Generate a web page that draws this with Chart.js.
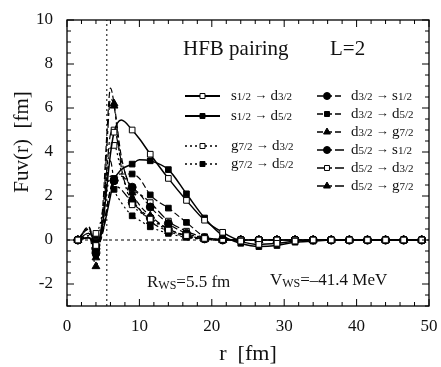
<!DOCTYPE html>
<html lang="en">
<head>
<meta charset="UTF-8">
<title>HFB pairing L=2</title>
<script src="https://cdn.jsdelivr.net/npm/chart.js"></script>
<style>
  html, body { margin: 0; padding: 0; background: #fff; }
</style>
</head>
<body>
<canvas id="chart" width="441" height="367"></canvas>
<script>
// radial grid (fm) and the positions carrying markers
const rGrid = [1.5, 3, 4, 5, 5.5, 6, 6.5, 7.5, 9, 10, 11.5, 14, 16.5, 19, 21.5, 24, 26.5, 29, 31.5, 34, 36.5, 39, 41.5, 44, 46.5, 49];
const markerR = [1.5, 4, 6.5, 9, 11.5, 14, 16.5, 19, 21.5, 24, 26.5, 29, 31.5, 34, 36.5, 39, 41.5, 44, 46.5, 49];

const xTicks = [0, 10, 20, 30, 40, 50];
const yTicks = [-2, 0, 2, 4, 6, 8, 10];

const labels = [
  's1/2 → d3/2', 's1/2 → d5/2', 'g7/2 → d3/2', 'g7/2 → d5/2',
  'd3/2 → s1/2', 'd3/2 → d5/2', 'd3/2 → g7/2', 'd5/2 → s1/2', 'd5/2 → d3/2', 'd5/2 → g7/2'
];

const s12_d32 = [0, 0.1, -0.25, 0.9, 2.4, 3.9, 4.9, 5.45, 5.0, 4.6, 3.9, 2.8, 1.8, 0.9, 0.35, -0.05, -0.2, -0.15, -0.05, 0, 0, 0, 0, 0, 0, 0];
const s12_d52 = [0, 0.1, -0.1, 0.5, 1.2, 2.0, 2.7, 3.2, 3.45, 3.65, 3.6, 3.2, 2.1, 1.0, 0.2, -0.15, -0.3, -0.25, -0.1, -0.05, 0, 0, 0, 0, 0, 0];
const g72_d32 = [0, 0.2, 0.3, 1.5, 3.2, 4.2, 4.3, 3.1, 1.6, 1.3, 0.95, 0.45, 0.2, 0.07, 0.02, 0, 0, 0, 0, 0, 0, 0, 0, 0, 0, 0];
const g72_d52 = [0, 0.2, 0.2, 1.0, 2.2, 2.9, 2.3, 1.7, 1.1, 0.9, 0.6, 0.3, 0.12, 0.04, 0, 0, 0, 0, 0, 0, 0, 0, 0, 0, 0, 0];
const d32_s12 = [0, 0.5, -0.4, 0.5, 1.5, 2.3, 2.7, 2.9, 2.4, 2.1, 1.5, 0.75, 0.3, 0.1, 0.02, 0, 0, 0, 0, 0, 0, 0, 0, 0, 0, 0];
const d32_d52 = [0, 0.6, -0.3, 0.4, 1.4, 2.3, 2.8, 3.0, 3.0, 2.8, 2.05, 1.45, 0.8, 0.15, 0.02, 0, 0, 0, 0, 0, 0, 0, 0, 0, 0, 0];
const d32_g72 = [0, 0.3, -1.2, 1.8, 4.8, 6.9, 6.2, 3.8, 2.15, 1.6, 1.1, 0.5, 0.2, 0.05, 0, 0, 0, 0, 0, 0, 0, 0, 0, 0, 0, 0];
const d52_s12 = [0, 0.3, -0.6, 0.8, 2.8, 3.6, 2.7, 2.3, 1.7, 1.4, 1.0, 0.5, 0.2, 0.05, 0, 0, 0, 0, 0, 0, 0, 0, 0, 0, 0, 0];
const d52_d32 = [0, 0.5, -0.3, 1.1, 3.2, 4.8, 5.0, 3.6, 2.3, 2.1, 1.7, 0.86, 0.4, 0.12, 0.02, 0, 0, 0, 0, 0, 0, 0, 0, 0, 0, 0];
const d52_g72 = [0, 0.6, -0.8, 1.3, 4.2, 6.4, 6.1, 3.3, 1.9, 1.4, 0.85, 0.4, 0.15, 0.03, 0, 0, 0, 0, 0, 0, 0, 0, 0, 0, 0, 0];

const rWS = 5.5;

const series = [s12_d32, s12_d52, g72_d32, g72_d52, d32_s12, d32_d52, d32_g72, d52_s12, d52_d32, d52_g72];
const styles = [
  { dash: [], shape: 'rect', open: true, w: 1.5 },
  { dash: [], shape: 'rect', open: false, w: 1.5 },
  { dash: [2, 3], shape: 'rect', open: true, w: 1.2 },
  { dash: [2, 3], shape: 'rect', open: false, w: 1.2 },
  { dash: [6, 3], shape: 'circle', open: false, w: 1.2 },
  { dash: [6, 3], shape: 'rect', open: false, w: 1.2 },
  { dash: [6, 3], shape: 'triangle', open: false, w: 1.2 },
  { dash: [9, 3, 3, 3], shape: 'circle', open: false, w: 1.2 },
  { dash: [9, 3, 3, 3], shape: 'rect', open: true, w: 1.2 },
  { dash: [9, 3, 3, 3], shape: 'triangle', open: false, w: 1.2 }
];

const SERIF = '"Liberation Serif", "DejaVu Serif", serif';

const datasets = series.map((vals, i) => ({
  label: labels[i],
  data: rGrid.map((r, j) => ({ x: r, y: vals[j] })),
  borderColor: '#000',
  borderWidth: styles[i].w,
  borderDash: styles[i].dash,
  pointStyle: styles[i].shape,
  pointBackgroundColor: styles[i].open ? '#fff' : '#000',
  pointBorderColor: '#000',
  pointBorderWidth: 1,
  pointRadius: ctx => markerR.includes(ctx.raw && ctx.raw.x) ? (styles[i].shape === 'triangle' ? 4.5 : 4) : 0,
  cubicInterpolationMode: 'monotone',
  fill: false
}));

// reference lines: R_WS and zero
datasets.push({
  label: 'rws',
  data: [{ x: rWS, y: -3 }, { x: rWS, y: 10 }],
  borderColor: '#000', borderWidth: 1, borderDash: [2, 3], pointRadius: 0, order: 20
});
datasets.push({
  label: 'zero',
  data: [{ x: 0, y: 0 }, { x: 50, y: 0 }],
  borderColor: '#000', borderWidth: 1, borderDash: [3, 3], pointRadius: 0, order: 20
});

function drawOrbital(ctx, str, x, y) {
  // "s1/2 → d3/2" with small fractions
  const parts = str.split(' → ');
  let cx = x;
  parts.forEach((p, k) => {
    ctx.font = '15px ' + SERIF;
    ctx.fillText(p[0], cx, y);
    cx += ctx.measureText(p[0]).width;
    ctx.font = '11px ' + SERIF;
    ctx.fillText(p.slice(1), cx, y + 1);
    cx += ctx.measureText(p.slice(1)).width;
    if (k === 0) {
      ctx.font = '13px ' + SERIF;
      ctx.fillText(' → ', cx, y);
      cx += ctx.measureText(' → ').width;
    }
  });
}

function drawSub(ctx, main, sub, rest, x, y, size) {
  ctx.font = size + 'px ' + SERIF;
  ctx.fillText(main, x, y);
  let cx = x + ctx.measureText(main).width;
  ctx.font = Math.round(size * 0.72) + 'px ' + SERIF;
  ctx.fillText(sub, cx, y + 3);
  cx += ctx.measureText(sub).width;
  ctx.font = size + 'px ' + SERIF;
  ctx.fillText(rest, cx, y);
}

const decor = {
  id: 'decor',
  afterDraw(chart) {
    const ctx = chart.ctx;
    const a = chart.chartArea;
    const xs = chart.scales.x, ys = chart.scales.y;
    ctx.save();
    ctx.strokeStyle = '#000';
    ctx.fillStyle = '#111';
    ctx.lineWidth = 1.3;
    ctx.setLineDash([]);
    ctx.strokeRect(a.left, a.top, a.right - a.left, a.bottom - a.top);

    ctx.lineWidth = 1;
    ctx.beginPath();
    for (let v = 0; v <= 50; v += 2) {
      const px = xs.getPixelForValue(v);
      const len = v % 10 === 0 ? 7 : 4;
      ctx.moveTo(px, a.bottom); ctx.lineTo(px, a.bottom - len);
      ctx.moveTo(px, a.top); ctx.lineTo(px, a.top + len);
    }
    for (let v = -3; v <= 10; v += 0.5) {
      const py = ys.getPixelForValue(v);
      const len = v % 2 === 0 ? 7 : 4;
      ctx.moveTo(a.left, py); ctx.lineTo(a.left + len, py);
      ctx.moveTo(a.right, py); ctx.lineTo(a.right - len, py);
    }
    ctx.stroke();

    // legend
    const col1 = { x0: 185, x1: 220, tx: 231, ys: [96, 116, 146, 164] };
    const col2 = { x0: 317, x1: 344, tx: 351, ys: [96, 114, 132, 150, 168, 186] };
    ctx.textBaseline = 'middle';
    ctx.textAlign = 'left';
    labels.forEach((lab, i) => {
      const c = i < 4 ? col1 : col2;
      const y = c.ys[i < 4 ? i : i - 4];
      const st = styles[i];
      ctx.setLineDash(st.dash);
      ctx.lineWidth = st.w + 0.3;
      ctx.beginPath();
      ctx.moveTo(c.x0, y); ctx.lineTo(c.x1, y);
      ctx.stroke();
      ctx.setLineDash([]);
      ctx.lineWidth = 1;
      ctx.fillStyle = st.open ? '#fff' : '#000';
      Chart.helpers.drawPoint(ctx, {
        pointStyle: st.shape, radius: st.shape === 'triangle' ? 4 : 3.5, rotation: 0, borderWidth: 1
      }, i < 4 ? (c.x0 + c.x1) / 2 : c.x0 + 10, y);
      ctx.fillStyle = '#111';
      drawOrbital(ctx, lab, c.tx, y);
    });

    // annotations
    ctx.font = '21px ' + SERIF;
    ctx.fillText('HFB pairing', 183, 49);
    ctx.fillText('L=2', 330, 49);
    drawSub(ctx, 'R', 'WS', '=5.5 fm', 147, 283, 17);
    drawSub(ctx, 'V', 'WS', '=\u201341.4 MeV', 270, 281, 17);

    // axis titles
    ctx.textAlign = 'center';
    ctx.font = '22px ' + SERIF;
    ctx.fillText('r  [fm]', 248, 354);
    ctx.translate(22, 142);
    ctx.rotate(-Math.PI / 2);
    ctx.font = '21px ' + SERIF;
    ctx.fillText('Fuv(r)  [fm]', 0, 0);
    ctx.restore();
  }
};

new Chart(document.getElementById('chart').getContext('2d'), {
  type: 'line',
  data: { datasets },
  options: {
    responsive: false,
    animation: false,
    layout: { padding: { top: 20, right: 12, left: 0, bottom: 0 } },
    scales: {
      x: {
        type: 'linear', min: 0, max: 50,
        afterBuildTicks: s => { s.ticks = xTicks.map(v => ({ value: v })); },
        afterFit: s => { s.height = 61; },
        grid: { display: false },
        border: { display: false },
        ticks: { color: '#111', padding: 2, maxRotation: 0, font: { family: SERIF, size: 17 } }
      },
      y: {
        min: -3, max: 10,
        afterBuildTicks: s => { s.ticks = yTicks.map(v => ({ value: v })); },
        afterFit: s => { s.width = 67; },
        grid: { display: false },
        border: { display: false },
        ticks: { color: '#111', padding: 6, font: { family: SERIF, size: 17 } }
      }
    },
    plugins: {
      legend: { display: false },
      tooltip: { enabled: false }
    }
  },
  plugins: [decor]
});
</script>
</body>
</html>
